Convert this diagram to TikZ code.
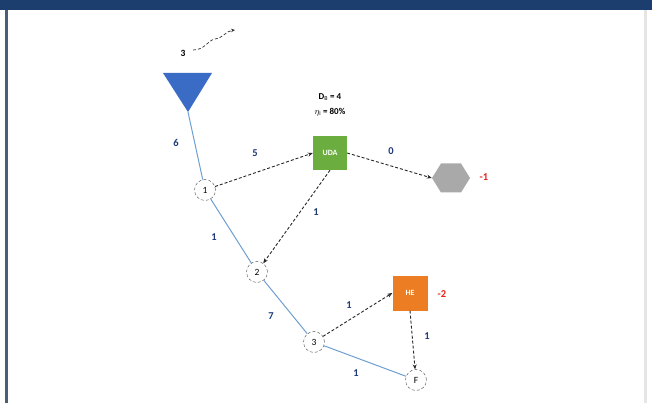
\documentclass[tikz,border=0pt]{standalone}
\usepackage{fontspec}
\setmainfont{Carlito}
\usetikzlibrary{arrows.meta}
\definecolor{frameblue}{HTML}{1C3E6E}
\definecolor{leftline}{HTML}{4A5E78}
\definecolor{lineblue}{HTML}{6E9FD2}
\definecolor{lblblue}{HTML}{1F3A7A}
\definecolor{udagreen}{HTML}{6BAE3F}
\definecolor{heorange}{HTML}{ED7D23}
\definecolor{tri}{HTML}{3A6CC6}
\definecolor{negred}{HTML}{E3231C}
\definecolor{hexgray}{HTML}{A9A9A9}
\begin{document}
\begin{tikzpicture}[x=1pt,y=-1pt,
  junc/.style={circle,draw=black!70,densely dashed,minimum size=21pt,inner sep=0pt,font=\fontsize{9.5}{10}\selectfont,fill=white},
  unitbox/.style={rectangle,minimum size=34pt,inner sep=0pt,text=white,font=\bfseries\fontsize{8}{9}\selectfont},
  wl/.style={font=\bfseries\fontsize{10.5}{11}\selectfont,text=lblblue},
  neg/.style={font=\bfseries\fontsize{10.5}{11}\selectfont,text=negred},
  flow/.style={draw=lineblue,line width=1pt},
  dflow/.style={draw=black!85,densely dashed,line width=0.9pt,-{Stealth[length=5pt,width=4pt]}},
]
\useasboundingbox (0,0) rectangle (652,403);
\fill[white] (0,0) rectangle (652,403);
\fill[frameblue] (0,0) rectangle (652,10);
\fill[leftline] (5,10) rectangle (8,403);
\fill[black!10] (644,10) rectangle (647,403);

% source triangle
\fill[tri] (163,73) -- (212,73) -- (188,112) -- cycle;
\coordinate (src) at (188,112);
\node[font=\bfseries\fontsize{9.5}{10}\selectfont] (three) at (183,53) {3};
\coordinate (sq0) at (193,50);
\coordinate (sq1) at (235,30);
\draw[black!80,densely dashed,line width=0.7pt,-{Stealth[length=4pt,width=3.5pt]}] (sq0) .. controls (205,50) and (208,40) .. (215,39) .. controls (223,38) and (226,31) .. (sq1);

% nodes
\node[junc] (n1) at (205,190) {1};
\node[junc] (n2) at (257,272) {2};
\node[junc] (n3) at (314,342) {3};
\node[junc] (nF) at (416,380) {F};
\node[unitbox,fill=udagreen] (uda) at (330,153) {UDA};
\node[unitbox,fill=heorange,minimum size=35pt] (he) at (410,293) {HE};
\node[rectangle,minimum width=38pt,minimum height=29pt,inner sep=0pt,
  path picture={\fill[hexgray] (path picture bounding box.west) -- ([xshift=9pt]path picture bounding box.north west) -- ([xshift=-9pt]path picture bounding box.north east) -- (path picture bounding box.east) -- ([xshift=-9pt]path picture bounding box.south east) -- ([xshift=9pt]path picture bounding box.south west) -- cycle;}] (hex) at (451,178) {};

% texts above UDA
\node[font=\bfseries\fontsize{9}{10}\selectfont] (db) at (330,97) {D$_{\mathrm{B}}$ = 4};
\node[font=\bfseries\fontsize{9}{10}\selectfont] (eta) at (330,112) {$\eta_{\mathrm{i}}$ = 80\%};

% blue flow lines
\draw[flow] (src) -- (n1);
\draw[flow] (n1) -- (n2);
\draw[flow] (n2) -- (n3);
\draw[flow] (n3) -- (nF);

% dashed arrows
\draw[dflow] (n1) -- (uda.west);
\draw[dflow] (uda.east) -- (hex.west);
\draw[dflow] (uda.south) -- (n2);
\draw[dflow] (n3) -- (he.west);
\draw[dflow] (he.south) -- (nF);

% labels
\node[wl] (l6) at (176,143) {6};
\node[wl] (l5) at (255,153) {5};
\node[wl] (l0) at (391,151) {0};
\node[wl] (l1a) at (316,212) {1};
\node[wl] (l1b) at (214,237) {1};
\node[wl] (l7) at (271,316) {7};
\node[wl] (l1c) at (349,305) {1};
\node[wl] (l1d) at (427,336) {1};
\node[wl] (l1e) at (356,373) {1};
\node[neg] (m1) at (484,177) {-1};
\node[neg] (m2) at (442,294) {-2};
\end{tikzpicture}
\end{document}
